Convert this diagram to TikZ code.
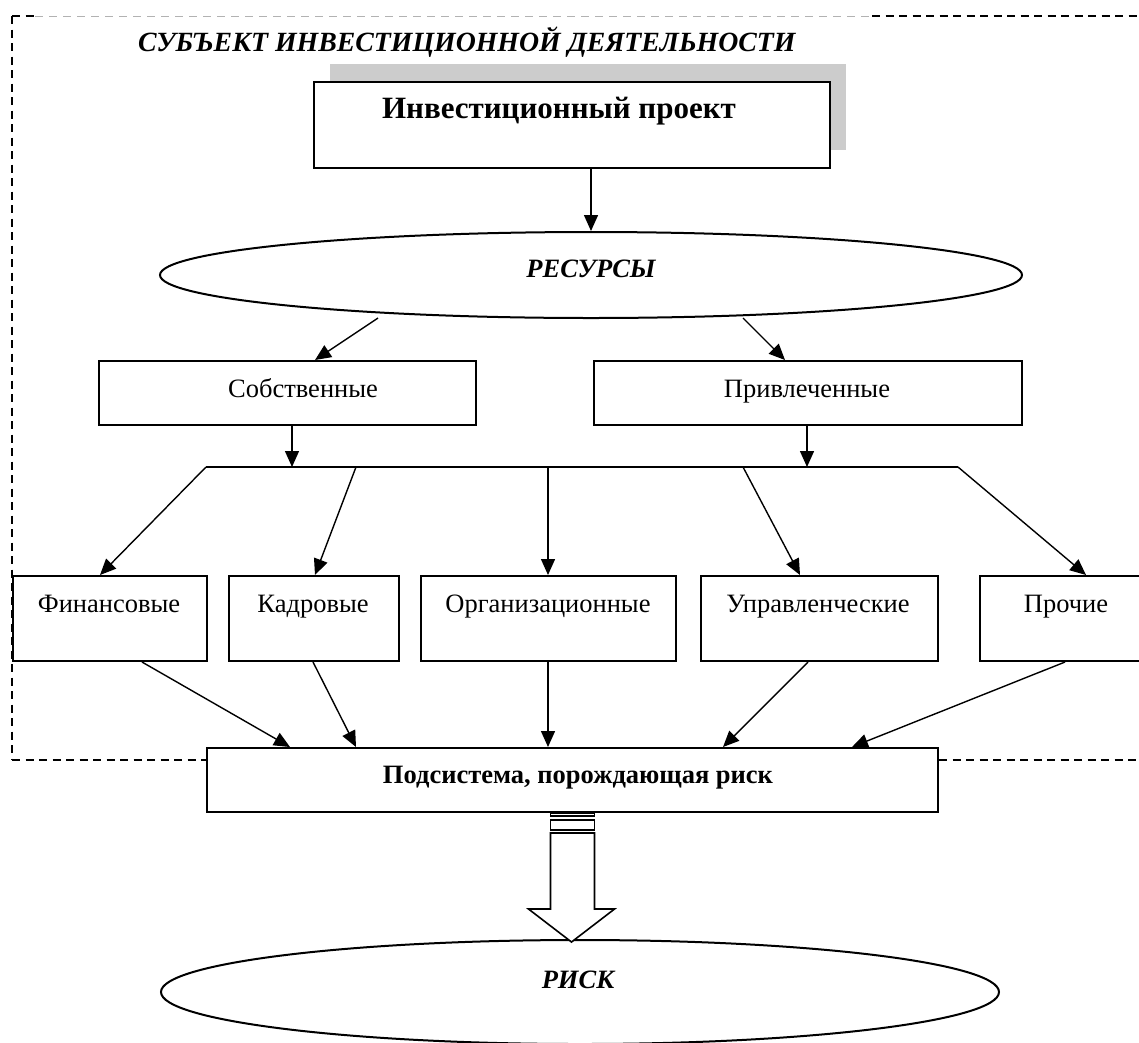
\documentclass[tikz,border=0pt]{standalone}
\usepackage{fontspec}
\setmainfont{Liberation Serif}
\usetikzlibrary{arrows.meta,shapes.geometric,calc}

\begin{document}
\begin{tikzpicture}[x=1pt,y=-1pt,
  box/.style={draw,line width=2pt,fill=white,inner sep=0pt,anchor=north west},
  oval/.style={draw,ellipse,line width=2pt,inner sep=0pt},
  conn/.style={line width=1.4pt,-{Triangle[length=16pt,width=14pt]}},
  txt/.style={font=\fontsize{26.5}{30}\selectfont,inner sep=0pt,anchor=base},
  btxt/.style={txt,font=\fontsize{26.5}{30}\selectfont\bfseries},
  bigbtxt/.style={txt,font=\fontsize{31}{34}\selectfont\bfseries},
  bitxt/.style={txt,font=\fontsize{26.5}{30}\selectfont\bfseries\itshape},
  frame/.style={line width=1.3pt,dash pattern=on 8pt off 5.5pt},
  framelight/.style={line width=0.8pt,gray!60,dash pattern=on 8pt off 6pt}]

\useasboundingbox (0,0) rectangle (1139,1042);
\clip (0,0) rectangle (1139,1042);

% outer dashed frame of the investment subject
\coordinate (ftl) at (12,16);
\coordinate (fbl) at (12,760);
\draw[frame] (ftl) -- (fbl);
\draw[frame] (ftl) -- (35,16);
\draw[framelight] (35,16) -- (872,16);
\draw[frame] (872,16) -- (1139,16);
\node[bitxt,font=\fontsize{27.8}{30}\selectfont\bfseries\itshape,anchor=base west] (title) at (138,51) {СУБЪЕКТ ИНВЕСТИЦИОННОЙ ДЕЯТЕЛЬНОСТИ};

% project box with its shadow
\fill[gray!40] (330,64) rectangle (846,150);
\node[box,minimum width=516pt,minimum height=86pt] (proj) at (313,81) {};
\node[bigbtxt] (projt) at (559,118) {Инвестиционный проект};

% resources
\node[oval,minimum width=862pt,minimum height=86pt] (res) at (591,275) {};
\node[bitxt] (rest) at (591,277) {РЕСУРСЫ};

\node[box,minimum width=377pt,minimum height=64pt] (own) at (98,360) {};
\node[txt] (ownt) at (303,397) {Собственные};
\node[box,minimum width=428pt,minimum height=64pt] (att) at (593,360) {};
\node[txt] (attt) at (807,397) {Привлеченные};

% kinds of resources
\node[box,minimum width=194pt,minimum height=85pt] (fin) at (12,575) {};
\node[txt] (fint) at (109,612) {Финансовые};
\node[box,minimum width=170pt,minimum height=85pt] (kad) at (228,575) {};
\node[txt] (kadt) at (313,612) {Кадровые};
\node[box,minimum width=255pt,minimum height=85pt] (org) at (420,575) {};
\node[txt] (orgt) at (548,612) {Организационные};
\node[box,minimum width=237pt,minimum height=85pt] (upr) at (700,575) {};
\node[txt] (uprt) at (818,612) {Управленческие};
\node[box,minimum width=200pt,minimum height=85pt] (pro) at (979,575) {};
\node[txt] (prot) at (1066,612) {Прочие};

% risk generating subsystem
\node[box,minimum width=731pt,minimum height=64pt] (sub) at (206,747) {};
\node[btxt] (subt) at (578,783) {Подсистема, порождающая риск};

% lower part of the frame, interrupted by the subsystem box
\draw[frame] (fbl) -- (fbl -| sub.west);
\draw[frame] (sub.east |- fbl) -- (1139,760);

% risk
\node[oval,minimum width=838pt,minimum height=104pt] (risk) at (580,992) {};
\node[bitxt] (riskt) at (578,988) {РИСК};

% connectors
\draw[conn] (proj.south -| res.north) -- (res.north);
\draw[conn] ($(res.south)+(-213,-1)$) -- ($(own.north west)+(217,0)$);
\draw[conn] ($(res.south)+(152,-1)$) -- ($(att.north west)+(192,0)$);

\coordinate (bl) at (206,467);
\coordinate (br) at (958,467);
\draw[line width=1.4pt] (bl) -- (br);
\draw[conn] ($(own.south west)+(194,0)$) coordinate (od) -- (od |- bl);
\draw[conn] ($(att.south west)+(214,0)$) coordinate (ad) -- (ad |- bl);

\coordinate (b2) at (356,467);
\coordinate (b3) at (548,467);
\coordinate (b4) at (743,467);
\draw[conn] (bl) -- ($(fin.north west)+(88,0)$);
\draw[conn] (b2) -- ($(kad.north west)+(87,0)$);
\draw[conn] (b3) -- ($(org.north west)+(128,0)$);
\draw[conn] (b4) -- ($(upr.north west)+(100,0)$);
\draw[conn] (br) -- ($(pro.north west)+(107,0)$);

\draw[conn] ($(fin.south west)+(130,0)$) -- ($(sub.north west)+(84,0)$);
\draw[conn] ($(kad.south west)+(85,0)$) -- ($(sub.north west)+(150,0)$);
\draw[conn] ($(org.south west)+(128,0)$) -- ($(sub.north west)+(342,0)$);
\draw[conn] ($(upr.south west)+(108,0)$) -- ($(sub.north west)+(517,0)$);
\draw[conn] ($(pro.south west)+(86,0)$) -- ($(sub.north west)+(646,0)$);

% hollow block arrow from the subsystem to the risk
\begin{scope}[shift={(sub.south)},line width=1.6pt]
  \draw (-22,0) rectangle (22,3);
  \draw (-22,7) rectangle (22,17);
  \draw[fill=white] (-22,20) -- (-22,96) -- (-44,96) -- (-1,129) -- (42,96)
        -- (22,96) -- (22,20) -- cycle;
\end{scope}
\end{tikzpicture}
\end{document}
